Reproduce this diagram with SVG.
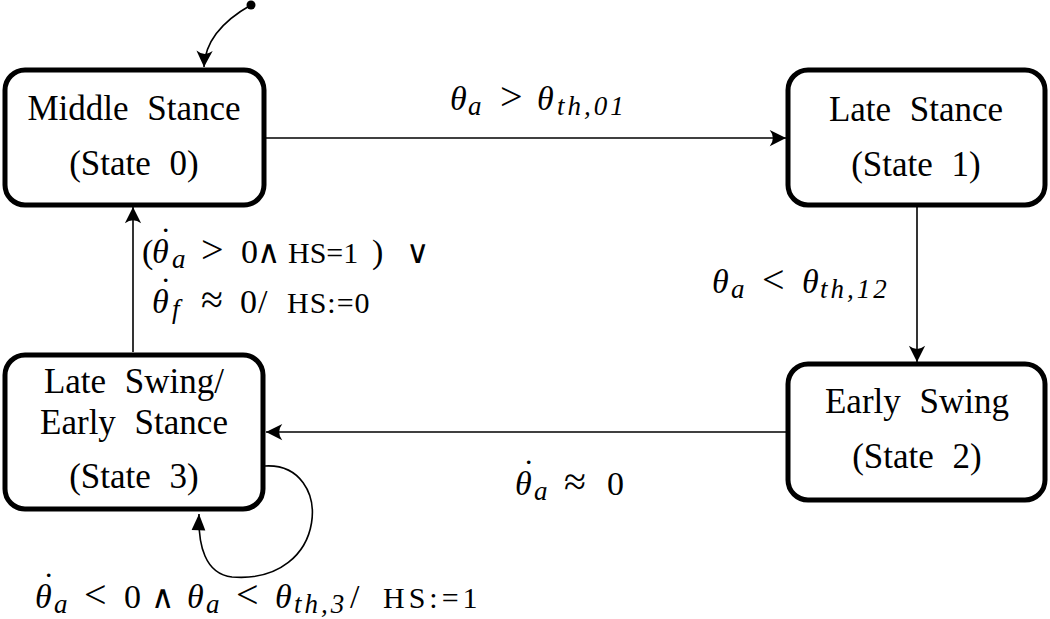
<svg xmlns="http://www.w3.org/2000/svg" width="1050" height="619" viewBox="0 0 1050 619">
<defs>
<style>
.box{fill:#fff;stroke:#000;stroke-width:5}
.lbl{font-family:'Liberation Serif','Times New Roman','DejaVu Serif',serif;font-size:35px;word-spacing:10px;text-anchor:middle;fill:#000}
.edge{fill:none;stroke:#000;stroke-width:1.6}
.m{font-family:'Liberation Serif','Times New Roman','DejaVu Serif',serif;font-size:34px;fill:#000}
.i{font-style:italic}
.s{font-size:27px;font-style:italic;letter-spacing:3px}
.o{font-size:40px}
.w{font-family:'DejaVu Serif',serif;font-size:32px}
.r{font-size:30px;font-style:normal}
</style>
<marker id="to" markerUnits="userSpaceOnUse" markerWidth="20" markerHeight="20" viewBox="-14 -8 16 16" refX="0" refY="0" orient="auto">
<path d="M0,0 L-13,-6.5 Q-8,0 -13,6.5 Z" fill="#000"/>
</marker>
<marker id="tri" markerUnits="userSpaceOnUse" markerWidth="20" markerHeight="20" viewBox="-14 -8 16 16" refX="0" refY="0" orient="auto">
<path d="M0,0 L-13,-5.5 L-13,5.5 Z" fill="#000"/>
</marker>
</defs>
<rect width="1050" height="619" fill="#fff"/>
<g id="connectors">
<circle cx="251" cy="5" r="4.5" fill="#000"/>
<path class="edge" d="M251,5 C228,18 205,38 204,67" marker-end="url(#to)"/>
<path class="edge" d="M266,138 L786,138" marker-end="url(#to)"/>
<path class="edge" d="M917,206 L917,362" marker-end="url(#to)"/>
<path class="edge" d="M786,432 L266,432" marker-end="url(#to)"/>
<path class="edge" d="M133,352 L133,207" marker-end="url(#to)"/>
<path class="edge" d="M265,466 C335,462 330,585 232,577 C205,574 198,545 199,514" marker-end="url(#tri)"/>
</g>
<g id="state0">
<rect class="box" x="5" y="70" width="259" height="135" rx="20"/>
<text class="lbl" x="134" y="120">Middle Stance</text>
<text class="lbl" x="134" y="175">(State 0)</text>
</g>
<g id="state1">
<rect class="box" x="788" y="70" width="257" height="135" rx="20"/>
<text class="lbl" x="916" y="121">Late Stance</text>
<text class="lbl" x="916" y="176">(State 1)</text>
</g>
<g id="state2">
<rect class="box" x="788" y="364" width="257" height="136" rx="20"/>
<text class="lbl" x="917" y="413">Early Swing</text>
<text class="lbl" x="917" y="468">(State 2)</text>
</g>
<g id="state3">
<rect class="box" x="5" y="355" width="258" height="154" rx="20"/>
<text class="lbl" x="134" y="393">Late Swing/</text>
<text class="lbl" x="134" y="434">Early Stance</text>
<text class="lbl" x="134" y="488">(State 3)</text>
</g>
<g id="labels">
<text class="m" y="110"><tspan class="i" x="450">θ</tspan><tspan class="s" x="468" dy="5">a</tspan><tspan class="o" x="500" dy="-5">&gt;</tspan><tspan class="i" x="537">θ</tspan><tspan class="s" x="557" dy="5">th,01</tspan></text>
<text class="m" y="293"><tspan class="i" x="712">θ</tspan><tspan class="s" x="731" dy="5">a</tspan><tspan class="o" x="762" dy="-5">&lt;</tspan><tspan class="i" x="802">θ</tspan><tspan class="s" x="820" dy="5">th,12</tspan></text>
<text class="m" y="263"><tspan x="142">(</tspan><tspan class="i" x="152">θ</tspan><tspan x="160" dy="-12">˙</tspan><tspan class="s" x="172" dy="17">a</tspan><tspan class="o" x="201" dy="-5">&gt;</tspan><tspan x="241">0</tspan><tspan class="w" x="257">∧</tspan><tspan class="r" x="288">HS=1</tspan><tspan x="372">)</tspan><tspan class="w" x="406">∨</tspan></text>
<text class="m" y="313"><tspan class="i" x="152">θ</tspan><tspan x="160" dy="-12">˙</tspan><tspan class="s" x="172" dy="17">f</tspan><tspan class="o" x="201" dy="-5">≈</tspan><tspan x="240">0</tspan><tspan x="258">/</tspan><tspan class="r" x="287" letter-spacing="1">HS:=0</tspan></text>
<text class="m" y="495"><tspan class="i" x="515">θ</tspan><tspan x="523" dy="-12">˙</tspan><tspan class="s" x="534" dy="17">a</tspan><tspan class="o" x="564" dy="-5">≈</tspan><tspan x="607">0</tspan></text>
<text class="m" y="608"><tspan class="i" x="35">θ</tspan><tspan x="43" dy="-12">˙</tspan><tspan class="s" x="54" dy="17">a</tspan><tspan class="o" x="84" dy="-5">&lt;</tspan><tspan x="124">0</tspan><tspan class="w" x="151">∧</tspan><tspan class="i" x="187">θ</tspan><tspan class="s" x="206" dy="5">a</tspan><tspan class="o" x="236" dy="-5">&lt;</tspan><tspan class="i" x="275">θ</tspan><tspan class="s" x="294" dy="5">th,3</tspan><tspan x="350" dy="-5">/</tspan><tspan class="r" x="383" letter-spacing="4">HS:=1</tspan></text>
</g>
</svg>
